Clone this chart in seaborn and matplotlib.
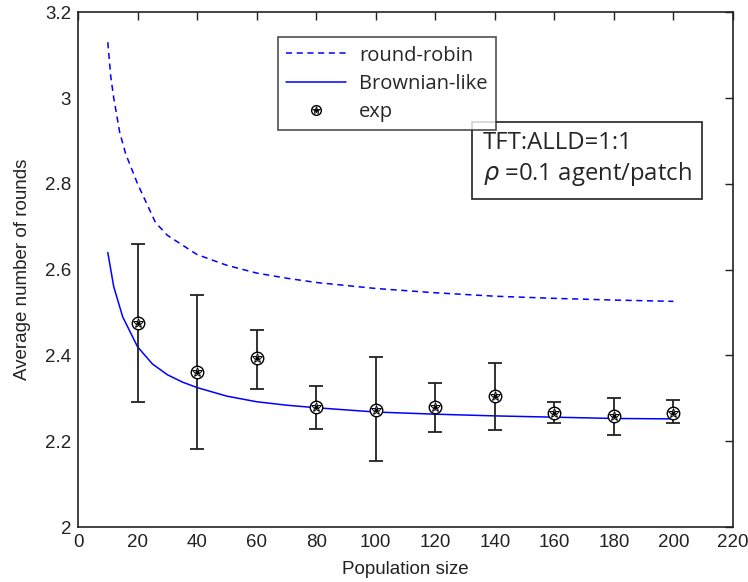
import numpy as np
import pandas as pd
import matplotlib
matplotlib.use("Agg")
import matplotlib.pyplot as plt
import seaborn as sns
from matplotlib.lines import Line2D
from matplotlib.legend_handler import HandlerTuple

# round-robin curve (dashed)
rr_x = [10, 11, 12, 14, 16, 20, 26, 30, 40, 50, 60, 70, 80, 100, 120, 140, 160, 180, 200]
rr_y = [3.13, 3.05, 3.0, 2.92, 2.87, 2.80, 2.71, 2.68, 2.635, 2.61, 2.592, 2.58, 2.57,
        2.556, 2.546, 2.538, 2.533, 2.529, 2.526]

# Brownian-like curve (solid)
br_x = [10, 11, 12, 15, 20, 25, 30, 35, 40, 50, 60, 70, 80, 100, 120, 140, 160, 180, 200]
br_y = [2.64, 2.60, 2.56, 2.49, 2.42, 2.38, 2.355, 2.338, 2.325, 2.305, 2.292, 2.284,
        2.278, 2.268, 2.263, 2.259, 2.256, 2.253, 2.252]

# experiment means and error bar limits
exp_x = [20, 40, 60, 80, 100, 120, 140, 160, 180, 200]
exp_y = [2.476, 2.361, 2.393, 2.280, 2.273, 2.280, 2.305, 2.266, 2.259, 2.266]
exp_hi = [2.660, 2.540, 2.460, 2.329, 2.396, 2.336, 2.383, 2.291, 2.301, 2.295]
exp_lo = [2.291, 2.182, 2.322, 2.228, 2.155, 2.221, 2.225, 2.242, 2.214, 2.242]

sns.set_style("white")
plt.rcParams["font.family"] = ["Liberation Sans", "DejaVu Sans"]

fig = plt.figure(figsize=(7.48, 5.82), dpi=100)
ax = fig.add_axes([0.1043, 0.0945, 0.8757, 0.8845])

dash = (0, (4, 3))
sns.lineplot(x=rr_x, y=rr_y, ax=ax, color="#0000ff", linestyle=dash, linewidth=1.1)
sns.lineplot(x=br_x, y=br_y, ax=ax, color="#0000ff", linewidth=1.1)

exp_y_arr = np.array(exp_y)
yerr = [exp_y_arr - np.array(exp_lo), np.array(exp_hi) - exp_y_arr]
ax.errorbar(exp_x, exp_y, yerr=yerr, fmt="none", ecolor="#222222", elinewidth=1.3,
            capsize=5, capthick=1.3, zorder=3)
ax.plot(exp_x, exp_y, "o", ms=9, mfc="white", mec="black", mew=1.0, zorder=4)
ax.plot(exp_x, exp_y, "*", ms=7, mfc="white", mec="black", mew=0.7, zorder=5)
ax.plot(exp_x, exp_y, ".", ms=4, color="black", zorder=6)

ax.set_xlim(0, 220)
ax.set_ylim(2, 3.2)
ax.set_xticks(range(0, 221, 20))
ax.set_yticks([2, 2.2, 2.4, 2.6, 2.8, 3, 3.2])
ax.set_yticklabels(["2", "2.2", "2.4", "2.6", "2.8", "3", "3.2"])
ax.tick_params(direction="in", length=6, width=1, top=True, right=True,
               labelsize=13.5, colors="#222222", labelcolor="#222222", pad=5)
for s in ax.spines.values():
    s.set_color("#222222")
    s.set_linewidth(1.2)
ax.set_xlabel("Population size", fontsize=13.5, labelpad=7, color="#222222")
ax.set_ylabel("Average number of rounds", fontsize=13.5, labelpad=10, color="#222222")

h_rr = Line2D([], [], color="#0000ff", linestyle=dash, linewidth=1.1)
h_br = Line2D([], [], color="#0000ff", linewidth=1.1)
h_o = Line2D([], [], marker="o", ms=7, mfc="white", mec="black", linestyle="none")
h_s = Line2D([], [], marker="*", ms=6, mfc="white", mec="black", mew=0.6, linestyle="none")
h_d = Line2D([], [], marker=".", ms=3, color="black", linestyle="none")
leg = ax.legend([h_rr, h_br, (h_o, h_s, h_d)], ["round-robin", "Brownian-like", "exp"],
                handler_map={tuple: HandlerTuple(ndivide=1, pad=0)},
                loc="upper left", bbox_to_anchor=(0.305, 0.951),
                prop={"family": "Open Sans", "size": 14.5}, frameon=True,
                fancybox=False, edgecolor="#222222", handlelength=3.0,
                borderpad=0.4, labelspacing=0.4, handletextpad=0.65, borderaxespad=0)
leg.get_frame().set_linewidth(1.2)

ax.text(0.618, 0.770, "TFT:ALLD=1:1\n$\\rho$ =0.1 agent/patch", transform=ax.transAxes,
        fontsize=17.2, family="Open Sans", va="top", ha="left", linespacing=1.27,
        bbox=dict(boxstyle="square,pad=0.45", fc="white", ec="#222222", lw=1.2))

fig.savefig("out.png", dpi=100)
